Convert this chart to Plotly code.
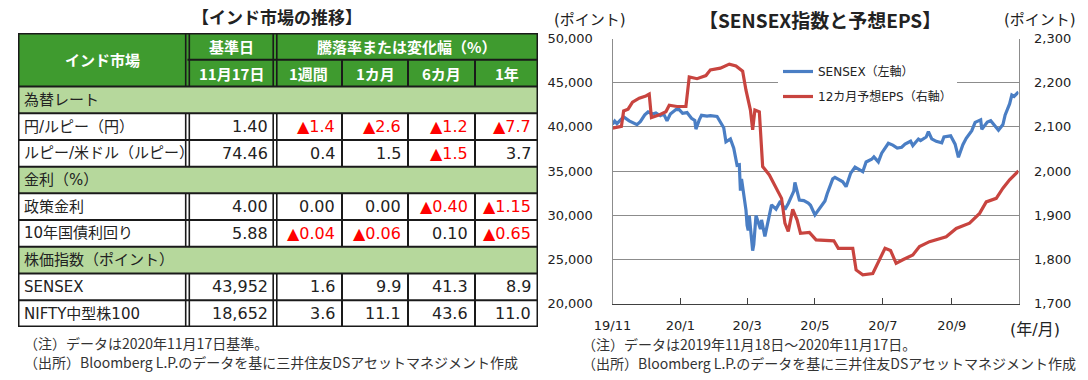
import plotly.graph_objects as go

W, H = 1088, 380

# ---------------- chart data ----------------
sensex_dates = [
    "2019-11-18", "2019-11-20", "2019-11-22", "2019-11-26", "2019-11-28", "2019-12-03", "2019-12-06",
    "2019-12-10", "2019-12-13", "2019-12-17", "2019-12-20", "2019-12-24", "2019-12-27", "2019-12-31",
    "2020-01-03", "2020-01-06", "2020-01-09", "2020-01-14", "2020-01-17", "2020-01-20", "2020-01-24",
    "2020-01-28", "2020-01-31", "2020-02-01", "2020-02-04", "2020-02-06", "2020-02-11", "2020-02-14",
    "2020-02-20", "2020-02-24", "2020-02-26", "2020-02-28", "2020-03-03", "2020-03-06", "2020-03-09",
    "2020-03-11", "2020-03-12", "2020-03-13", "2020-03-16", "2020-03-17", "2020-03-18", "2020-03-19",
    "2020-03-20", "2020-03-23", "2020-03-24", "2020-03-25", "2020-03-26", "2020-03-30", "2020-03-31",
    "2020-04-03", "2020-04-07", "2020-04-09", "2020-04-13", "2020-04-17", "2020-04-21", "2020-04-24",
    "2020-04-29", "2020-04-30", "2020-05-04", "2020-05-08", "2020-05-12", "2020-05-14", "2020-05-18",
    "2020-05-22", "2020-05-27", "2020-05-29", "2020-06-03", "2020-06-05", "2020-06-09", "2020-06-12",
    "2020-06-15", "2020-06-19", "2020-06-23", "2020-06-26", "2020-06-30", "2020-07-03", "2020-07-08",
    "2020-07-10", "2020-07-14", "2020-07-17", "2020-07-23", "2020-07-27", "2020-07-31", "2020-08-04",
    "2020-08-07", "2020-08-12", "2020-08-14", "2020-08-19", "2020-08-21", "2020-08-26", "2020-08-28",
    "2020-08-31", "2020-09-04", "2020-09-09", "2020-09-11", "2020-09-17", "2020-09-21", "2020-09-24",
    "2020-09-28", "2020-10-01", "2020-10-06", "2020-10-09", "2020-10-14", "2020-10-15", "2020-10-20",
    "2020-10-23", "2020-10-28", "2020-10-30", "2020-11-03", "2020-11-05", "2020-11-09", "2020-11-11",
    "2020-11-13", "2020-11-17",
]
sensex_values = [
    40284, 40651, 40359, 40821, 41130, 40675, 40445,
    40240, 40581, 41352, 41681, 41461, 41575, 41254,
    41464, 40677, 41452, 41952, 41945, 41529, 41613,
    40967, 40723, 39736, 40789, 41306, 41216, 41257,
    41170, 40363, 39889, 38297, 38624, 37577, 35635,
    35697, 32778, 34103, 31390, 30579, 28869, 28288,
    29916, 25981, 26674, 28536, 29947, 28440, 29468,
    27591, 30067, 31160, 30690, 31589, 30636, 31327,
    32720, 33717, 31715, 31643, 31371, 31123, 30029,
    30672, 31605, 32424, 34110, 34287, 33957, 33781,
    33229, 34732, 35430, 35171, 34916, 36021, 36330,
    36594, 36033, 37020, 38140, 37935, 37606, 37688,
    38040, 38370, 37877, 38614, 38434, 38843, 39467,
    38628, 38357, 38194, 38854, 38979, 38034, 36553,
    37982, 38697, 39574, 40509, 40794, 39728, 40544,
    40686, 39922, 39614, 40261, 41340, 42597, 43594,
    43443, 43952,
]

eps_dates = [
    "2019-11-18", "2019-11-22", "2019-11-26", "2019-11-28", "2019-12-02", "2019-12-06", "2019-12-12",
    "2019-12-18", "2019-12-21", "2019-12-23", "2019-12-29", "2020-01-05", "2020-01-08", "2020-01-15",
    "2020-01-23", "2020-01-26", "2020-02-02", "2020-02-10", "2020-02-14", "2020-02-23", "2020-03-02",
    "2020-03-08", "2020-03-14", "2020-03-17", "2020-03-21", "2020-03-23", "2020-03-25", "2020-03-29",
    "2020-04-01", "2020-04-07", "2020-04-13", "2020-04-18", "2020-04-21", "2020-04-24", "2020-04-28",
    "2020-05-02", "2020-05-05", "2020-05-13", "2020-05-19", "2020-05-29", "2020-06-04", "2020-06-08",
    "2020-06-21", "2020-06-24", "2020-06-30", "2020-07-09", "2020-07-15", "2020-07-20", "2020-07-25",
    "2020-07-30", "2020-08-05", "2020-08-14", "2020-08-20", "2020-08-29", "2020-09-13", "2020-09-22",
    "2020-10-04", "2020-10-13", "2020-10-19", "2020-10-28", "2020-11-03", "2020-11-09", "2020-11-17",
]
eps_values = [
    2097, 2099, 2101, 2136, 2140, 2156, 2165,
    2170, 2174, 2121, 2126, 2134, 2149, 2146,
    2146, 2213, 2209, 2216, 2229, 2233, 2242,
    2238, 2226, 2183, 2138, 2093, 2138, 2134,
    2010, 1991, 1964, 1938, 1882, 1863, 1913,
    1889, 1859, 1861, 1844, 1842, 1842, 1825,
    1825, 1776, 1765, 1768, 1799, 1825, 1820,
    1791, 1799, 1810, 1829, 1840, 1851, 1870,
    1882, 1904, 1930, 1938, 1961, 1980, 2000,
]

tick_dates = ["2019-11-18", "2020-01-18", "2020-03-18", "2020-05-18", "2020-07-18", "2020-09-18"]
tick_labels = ["19/11", "20/1", "20/3", "20/5", "20/7", "20/9"]
left_ticks = [20000, 25000, 30000, 35000, 40000, 45000, 50000]
right_ticks = [1700, 1800, 1900, 2000, 2100, 2200, 2300]

series_names = ["SENSEX（左軸）", "12カ月予想EPS（右軸）"]

# ---------------- table data ----------------
section_names = ["為替レート", "金利（%）", "株価指数（ポイント）"]
item_names = ["円/ルピー（円）", "ルピー/米ドル（ルピー）", "政策金利", "10年国債利回り", "SENSEX", "NIFTY中型株100"]
item_section = [0, 0, 1, 1, 2, 2]
base_values = [1.40, 74.46, 4.00, 5.88, 43952, 18652]
base_decimals = [2, 2, 2, 2, 0, 0]
chg_1w = [-1.4, 0.4, 0.00, -0.04, 1.6, 3.6]
chg_1m = [-2.6, 1.5, 0.00, -0.06, 9.9, 11.1]
chg_6m = [-1.2, -1.5, -0.40, 0.10, 41.3, 43.6]
chg_1y = [-7.7, 3.7, -1.15, -0.65, 8.9, 11.0]
chg_decimals = [1, 1, 2, 2, 1, 1]
period_labels = ["1週間", "1カ月", "6カ月", "1年"]
header_market = "インド市場"
header_base = "基準日"
header_base_date = "11月17日"
header_change = "騰落率または変化幅（%）"

# ---------------- styles ----------------
JP = "Noto Sans CJK JP"
NUM = "DejaVu Sans, Noto Sans CJK JP"
TXT = "#222222"
BLUE = "#4A7EC4"
RED = "#C8443F"
GRID = "#8C8C8C"
GREEN = "#3F9B2F"
LIGHT = "#B6D89C"
LINE = "#1A1A1A"


def px(x):
    return x / W


def py(y):
    return 1 - y / H


fig = go.Figure()

fig.add_trace(go.Scatter(
    x=sensex_dates, y=sensex_values, name=series_names[0], mode="lines",
    line=dict(color=BLUE, width=3.2), yaxis="y", legendgroup="a",
))
fig.add_trace(go.Scatter(
    x=eps_dates, y=eps_values, name=series_names[1], mode="lines",
    line=dict(color=RED, width=3.2), yaxis="y2", legendgroup="b",
))

x0p, x1p, y0p, y1p = 612.5, 1018.5, 38.5, 303.5

fig.update_layout(
    width=W, height=H, margin=dict(l=0, r=0, t=0, b=0, autoexpand=False),
    paper_bgcolor="white", plot_bgcolor="white",
    font=dict(family=NUM, color=TXT),
    xaxis=dict(
        domain=[px(x0p), px(x1p)], type="date",
        range=[sensex_dates[0], sensex_dates[-1]],
        tickvals=tick_dates, ticktext=tick_labels,
        ticks="inside", ticklen=6, tickcolor="#404040", tickwidth=1,
        showline=True, linecolor="#404040", linewidth=1,
        showgrid=False, zeroline=False,
        tickfont=dict(size=13, family=NUM, color=TXT), ticklabelstandoff=10,
        anchor="y", automargin=False,
    ),
    yaxis=dict(
        domain=[py(y1p), py(y0p)], range=[20000, 50000],
        tickvals=left_ticks, tickformat=",",
        showgrid=True, gridcolor=GRID, gridwidth=1,
        showline=True, linecolor=GRID, linewidth=1, ticks="",
        zeroline=False, tickfont=dict(size=13, family=NUM, color=TXT),
        ticklabelstandoff=16, anchor="x", automargin=False,
    ),
    yaxis2=dict(
        overlaying="y", side="right", range=[1700, 2300],
        tickvals=right_ticks, tickformat=",",
        showgrid=False, showline=True, linecolor=GRID, linewidth=1, ticks="",
        zeroline=False, tickfont=dict(size=13, family=NUM, color=TXT),
        ticklabelstandoff=12, anchor="x", automargin=False,
    ),
    xaxis3=dict(domain=[px(18), px(538)], range=[0, 520], visible=False, anchor="y3", fixedrange=True),
    yaxis3=dict(domain=[py(327), py(33)], range=[11, 0], visible=False, anchor="x3", fixedrange=True),
    showlegend=True,
    legend=dict(
        x=px(778), y=py(57), xanchor="left", yanchor="top",
        bgcolor="white", borderwidth=0, font=dict(size=12, family=NUM, color=TXT),
        traceorder="grouped", tracegroupgap=6, itemwidth=30,
    ),
)

shapes = []
annotations = []

# ---------------- table ----------------
col_edges = [0, 169.5, 257, 324, 390, 457, 520]
n_rows = 2 + len(section_names) + len(item_names)

section_rows = []
item_rows = [0] * len(item_names)
r = 2
for s in range(len(section_names)):
    section_rows.append(r)
    r += 1
    for i, sec in enumerate(item_section):
        if sec == s:
            item_rows[i] = r
            r += 1


def rect(x0, x1, y0, y1, color):
    shapes.append(dict(type="rect", xref="x3", yref="y3", x0=x0, x1=x1, y0=y0, y1=y1,
                       fillcolor=color, line=dict(width=0), layer="below"))


def hline(y, x0, x1, w=2):
    shapes.append(dict(type="line", xref="x3", yref="y3", x0=x0, x1=x1, y0=y, y1=y,
                       line=dict(color=LINE, width=w)))


def vline(x, y0, y1, w=2):
    shapes.append(dict(type="line", xref="x3", yref="y3", x0=x, x1=x, y0=y0, y1=y1,
                       line=dict(color=LINE, width=w)))


rect(col_edges[0], col_edges[-1], 0, 2, GREEN)
for sr in section_rows:
    rect(col_edges[0], col_edges[-1], sr, sr + 1, LIGHT)

for y in range(n_rows + 1):
    if y == 1:
        hline(y, col_edges[1], col_edges[-1], 2)
    else:
        hline(y, col_edges[0], col_edges[-1], 3 if y in (0, n_rows) else 2)
vline(col_edges[0], 0, n_rows, 3)
vline(col_edges[-1], 0, n_rows, 3)

spans = [(0, 2)] + [(ir, ir + 1) for ir in item_rows]
for (ya, yb) in spans:
    for ci in (1, 2):
        vline(col_edges[ci] - 1.8, ya, yb, 1.6)
        vline(col_edges[ci] + 1.8, ya, yb, 1.6)
    for ci in (3, 4, 5):
        vline(col_edges[ci], ya + (1 if ya == 0 else 0), yb, 2)


def ann(x, y, text, size=15, color=TXT, xanchor="center", family=NUM, bold=False):
    if bold:
        text = "<b>" + text + "</b>"
    annotations.append(dict(x=x, y=y, xref="x3", yref="y3", text=text, showarrow=False,
                            xanchor=xanchor, yanchor="middle",
                            font=dict(size=size, color=color, family=family)))


WHITE = "#FFFFFF"
ann((col_edges[0] + col_edges[1]) / 2, 1, header_market, 15, WHITE, bold=True, family=JP)
ann((col_edges[1] + col_edges[2]) / 2, 0.5, header_base, 15, WHITE, bold=True, family=JP)
ann((col_edges[1] + col_edges[2]) / 2, 1.5, header_base_date, 15, WHITE, bold=True, family=JP)
ann((col_edges[2] + col_edges[-1]) / 2, 0.5, header_change, 15, WHITE, bold=True, family=JP)
for k, lab in enumerate(period_labels):
    ann((col_edges[2 + k] + col_edges[3 + k]) / 2, 1.5, lab, 15, WHITE, bold=True, family=JP)

for s, sr in enumerate(section_rows):
    ann(4, sr + 0.5, section_names[s], 15, xanchor="left")


def fmt(v, d, comma=False):
    s = f"{abs(v):,.{d}f}" if comma else f"{abs(v):.{d}f}"
    if v < 0:
        return "▲" + s, "#FF0000"
    return s, TXT


for i, name in enumerate(item_names):
    yr = item_rows[i] + 0.5
    ann(4, yr, name, 15, xanchor="left")
    t, c = fmt(base_values[i], base_decimals[i], comma=True)
    ann(col_edges[2] - 5, yr, t, 16, c, xanchor="right")
    for k, arr in enumerate([chg_1w, chg_1m, chg_6m, chg_1y]):
        t, c = fmt(arr[i], chg_decimals[i])
        ann(col_edges[3 + k] - 5, yr, t, 16, c, xanchor="right")


# ---------------- paper annotations ----------------
def pann(x, y, text, size=14, color=TXT, xanchor="center", family=JP):
    annotations.append(dict(x=px(x), y=py(y), xref="paper", yref="paper", text=text,
                            showarrow=False, xanchor=xanchor, yanchor="middle",
                            font=dict(size=size, color=color, family=family)))


pann(277, 16, "<b>【インド市場の推移】</b>", 17, "#222222")
pann(820, 20, "<b>【SENSEX指数と予想EPS】</b>", 19, "#222222")
pann(590, 20, "(ポイント)", 15, family=NUM)
pann(1040, 20, "(ポイント)", 15, family=NUM)
pann(1035, 329, "(年/月)", 16, family=NUM)
NOTE = "#333333"
pann(22, 343, "（注）データは2020年11月17日基準。", 14, NOTE, "left")
pann(22, 362, "（出所）Bloomberg L.P.のデータを基に三井住友DSアセットマネジメント作成", 14, NOTE, "left")
pann(580, 344, "（注）データは2019年11月18日～2020年11月17日。", 14, NOTE, "left")
pann(580, 363, "（出所）Bloomberg L.P.のデータを基に三井住友DSアセットマネジメント作成", 14, NOTE, "left")

fig.update_layout(shapes=shapes, annotations=annotations)
fig.write_html(
    "out.html",
    config={"displayModeBar": False},
    post_script="document.body.style.margin='0';document.body.style.padding='0';"
                "document.body.style.overflow='hidden';",
)
